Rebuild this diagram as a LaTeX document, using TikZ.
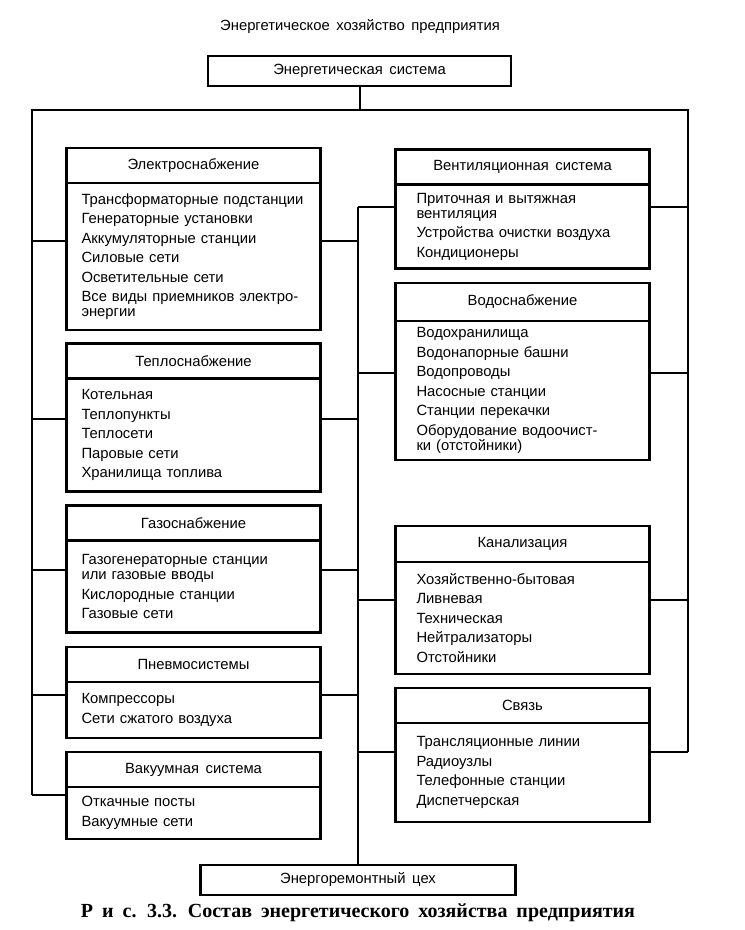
\documentclass[tikz,border=0pt]{standalone}
\usepackage{fontspec}
\setmainfont{Liberation Sans}[WordSpace=1.6]
\newfontfamily\capfont{Liberation Serif}[WordSpace=1.8]
\usetikzlibrary{positioning}

\begin{document}
\begin{tikzpicture}[x=0.5pt, y=-0.5pt, line width=1pt,
    txt/.style={font=\fontsize{7.4}{7.5}\selectfont},
    head/.style={txt, draw, line width=1.2pt, outer sep=0pt, minimum width=127pt, minimum height=17.5pt, inner sep=0pt},
    bodyL/.style={txt, draw, line width=1.2pt, outer sep=0pt, text width=112pt, inner xsep=7.5pt, align=left, minimum height=#1},
    bodyR/.style={txt, draw, line width=1.2pt, outer sep=0pt, text width=106pt, inner xsep=10.5pt, align=left, minimum height=#1}]
    \useasboundingbox (0,0) rectangle (744,930);

    % Заголовок и верхний блок
    \node[txt] (title) at (360,27) {Энергетическое хозяйство предприятия};
    \node[head, minimum width=151.5pt, minimum height=15pt] (es) at (359.5,71) {Энергетическая система};

    % Левая колонка
    \node[head] (elh) at (193.5,165.5) {Электроснабжение};
    \node[bodyL=73.5pt, below=0pt of elh] (elb) {Трансформаторные подстанции\\[2.25pt]
        Генераторные установки\\[2.25pt] Аккумуляторные станции\\[2.25pt] Силовые сети\\[2.25pt]
        Осветительные сети\\[2.25pt] Все виды приемников электро-\\энергии};
    \node[head] (tph) at (193.5,361) {Теплоснабжение};
    \node[bodyL=56.5pt, below=0pt of tph] (tpb) {Котельная\\[2.25pt] Теплопункты\\[2.25pt]
        Теплосети\\[2.25pt] Паровые сети\\[2.25pt] Хранилища топлива};
    \node[head] (gsh) at (193.5,523) {Газоснабжение};
    \node[bodyL=46pt, below=0pt of gsh] (gsb) {Газогенераторные станции\\или газовые вводы\\[2.25pt]
        Кислородные станции\\[2.25pt] Газовые сети};
    \node[head] (pnh) at (193.5,664.5) {Пневмосистемы};
    \node[bodyL=28pt, below=0pt of pnh] (pnb) {Компрессоры\\[2.25pt] Сети сжатого воздуха};
    \node[head] (vkh) at (193.5,769.5) {Вакуумная система};
    \node[bodyL=26pt, below=0pt of vkh] (vkb) {Откачные посты\\[2.25pt] Вакуумные сети};

    % Правая колонка
    \node[head] (vth) at (522.5,167) {Вентиляционная система};
    \node[bodyR=42pt, below=0pt of vth] (vtb) {Приточная и вытяжная\\вентиляция\\[2.25pt]
        Устройства очистки воздуха\\[2.25pt] Кондиционеры};
    \node[head, minimum height=19pt] (vdh) at (522.5,302) {Водоснабжение};
    \node[bodyR=69.5pt, below=0pt of vdh] (vdb) {Водохранилища\\[2.25pt] Водонапорные башни\\[2.25pt]
        Водопроводы\\[2.25pt] Насосные станции\\[2.25pt] Станции перекачки\\[2.25pt]
        Оборудование водоочист-\\ки (отстойники)};
    \node[head, minimum height=18pt] (knh) at (522.5,544) {Канализация};
    \node[bodyR=56pt, below=0pt of knh] (knb) {Хозяйственно-бытовая\\[2.25pt] Ливневая\\[2.25pt]
        Техническая\\[2.25pt] Нейтрализаторы\\[2.25pt] Отстойники};
    \node[head] (svh) at (522.5,705.5) {Связь};
    \node[bodyR=49.5pt, below=0pt of svh] (svb) {Трансляционные линии\\[2.25pt] Радиоузлы\\[2.25pt]
        Телефонные станции\\[2.25pt] Диспетчерская};

    % Нижний блок и подпись
    \node[head, minimum width=157.5pt, minimum height=15pt] (rc) at (358,880) {Энергоремонтный цех};
    \node[font=\capfont\bfseries\fontsize{10}{12}\selectfont] (cap) at (358,913)
        {Р и с. 3.3. Состав энергетического хозяйства предприятия};

    % Шины
    \coordinate (bl) at (32,110);
    \coordinate (br) at (688,110);
    \coordinate (mt) at (358,207);
    \draw (es.south) -- (es.south |- bl);
    \draw (bl |- 0,795) -- (bl) -- (br) -- (br |- 0,752);
    \draw (mt) -- (rc.north);

    % Отводы к блокам
    \draw (bl |- 0,241) -- (elb.west |- 0,241);
    \draw (elb.east |- 0,241) -- (mt |- 0,241);
    \draw (bl |- 0,419) -- (tpb.west |- 0,419);
    \draw (tpb.east |- 0,419) -- (mt |- 0,419);
    \draw (bl |- 0,570) -- (gsb.west |- 0,570);
    \draw (gsb.east |- 0,570) -- (mt |- 0,570);
    \draw (bl |- 0,695) -- (pnb.west |- 0,695);
    \draw (pnb.east |- 0,695) -- (mt |- 0,695);
    \draw (bl |- 0,795) -- (vkb.west |- 0,795);
    \draw (mt) -- (vtb.west |- mt);
    \draw (vtb.east |- mt) -- (br |- mt);
    \draw (mt |- 0,373) -- (vdb.west |- 0,373);
    \draw (vdb.east |- 0,373) -- (br |- 0,373);
    \draw (mt |- 0,600) -- (knb.west |- 0,600);
    \draw (knb.east |- 0,600) -- (br |- 0,600);
    \draw (mt |- 0,752) -- (svb.west |- 0,752);
    \draw (svb.east |- 0,752) -- (br |- 0,752);
\end{tikzpicture}
\end{document}
